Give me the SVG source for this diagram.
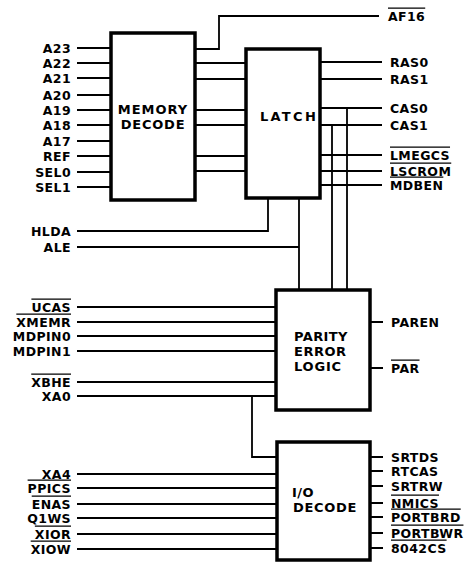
<svg xmlns="http://www.w3.org/2000/svg" width="471" height="562" viewBox="0 0 471 562">
<style>
text{font-family:"DejaVu Sans","Liberation Sans",sans-serif;font-weight:bold;font-size:12.5px;fill:#000;letter-spacing:0.4px}
.l{text-anchor:end}
.ov{text-decoration:overline}
.box{fill:#fff;stroke:#000;stroke-width:3.5}
.bl{font-size:13px}
.w{fill:none;stroke:#000;stroke-width:1.8}
</style>
<rect width="471" height="562" fill="#fff"/>
<g id="connectors">
<path class="w" d="M77 48H111M77 63H111M77 78H111M77 95H111M77 110H111M77 125H111M77 141H111M77 156H111M77 172H111M77 187H111"/>
<path class="w" d="M195 49H219V16H379"/>
<path class="w" d="M195 63H246M195 79H246M195 110H246M195 125H246M195 156H246M195 171H246"/>
<path class="w" d="M320 62H382M320 79H382M320 108H382M320 125H382M320 155H382M320 171H382M320 185H382"/>
<path class="w" d="M347 108V290M332 125V290"/>
<path class="w" d="M268 198V231H77M299 198V290M77 247H299"/>
<path class="w" d="M77 307H276M77 322H276M77 336H276M77 351H276M77 382H276M77 396H276"/>
<path class="w" d="M252 396V457H277"/>
<path class="w" d="M370 322H383M370 368H383"/>
<path class="w" d="M77 474H277M77 488H277M77 504H277M77 518H277M77 534H277M77 549H277"/>
<path class="w" d="M370 457H383M370 471H383M370 486H383M370 503H383M370 517H383M370 533H383M370 548H383"/>
</g>
<g id="memory-decode">
<rect class="box" x="111" y="33" width="84" height="167"/>
<text class="bl" x="153" y="114" text-anchor="middle" style="letter-spacing:1px">MEMORY</text>
<text class="bl" x="153" y="129" text-anchor="middle" style="letter-spacing:0.8px">DECODE</text>
</g>
<g id="latch">
<rect class="box" x="246" y="49" width="74" height="149"/>
<text class="bl" x="289" y="121" text-anchor="middle" style="letter-spacing:2.3px">LATCH</text>
</g>
<g id="parity-error-logic">
<rect class="box" x="276" y="290" width="94" height="120"/>
<text class="bl" x="294" y="341">PARITY</text>
<text class="bl" x="294" y="356" style="letter-spacing:0.5px">ERROR</text>
<text class="bl" x="294" y="371" style="letter-spacing:0.8px">LOGIC</text>
</g>
<g id="io-decode">
<rect class="box" x="277" y="442" width="93" height="118"/>
<text class="bl" x="292" y="497">I/O</text>
<text class="bl" x="293" y="512" style="letter-spacing:0.7px">DECODE</text>
</g>
<g id="labels-left">
<text class="l" x="71" y="52.5">A23</text>
<text class="l" x="71" y="67.5">A22</text>
<text class="l" x="71" y="82.5">A21</text>
<text class="l" x="71" y="99.5">A20</text>
<text class="l" x="71" y="114.5">A19</text>
<text class="l" x="71" y="129.5">A18</text>
<text class="l" x="71" y="145.5">A17</text>
<text class="l" x="71" y="160.5">REF</text>
<text class="l" x="71" y="176.5">SEL0</text>
<text class="l" x="71" y="191.5">SEL1</text>
<text class="l" x="71" y="235.5">HLDA</text>
<text class="l" x="71" y="251.5">ALE</text>
<text class="l ov" x="71" y="311.5">UCAS</text>
<text class="l ov" x="71" y="326.5">XMEMR</text>
<text class="l" x="71" y="340.5">MDPIN0</text>
<text class="l" x="71" y="355.5">MDPIN1</text>
<text class="l ov" x="71" y="386.5">XBHE</text>
<text class="l" x="71" y="400.5">XA0</text>
<text class="l" x="71" y="478.5">XA4</text>
<text class="l ov" x="71" y="492.5">PPICS</text>
<text class="l ov" x="71" y="508.5">ENAS</text>
<text class="l" x="71" y="522.5">Q1WS</text>
<text class="l ov" x="71" y="538.5">XIOR</text>
<text class="l ov" x="71" y="553.5">XIOW</text>
</g>
<g id="labels-right">
<text class="ov" x="388" y="20.5">AF16</text>
<text x="390" y="66.5">RAS0</text>
<text x="390" y="83.5">RAS1</text>
<text x="390" y="112.5">CAS0</text>
<text x="390" y="129.5">CAS1</text>
<text class="ov" x="390" y="159.5">LMEGCS</text>
<text class="ov" x="390" y="175.5">LSCROM</text>
<text class="ov" x="390" y="189.5">MDBEN</text>
<text x="391" y="326.5">PAREN</text>
<text class="ov" x="391" y="372.5">PAR</text>
<text x="391" y="461.5">SRTDS</text>
<text x="391" y="475.5">RTCAS</text>
<text x="391" y="490.5">SRTRW</text>
<text class="ov" x="391" y="507.5">NMICS</text>
<text class="ov" x="391" y="521.5">PORTBRD</text>
<text class="ov" x="391" y="537.5">PORTBWR</text>
<text class="ov" x="391" y="552.5">8042CS</text>
</g>
</svg>
